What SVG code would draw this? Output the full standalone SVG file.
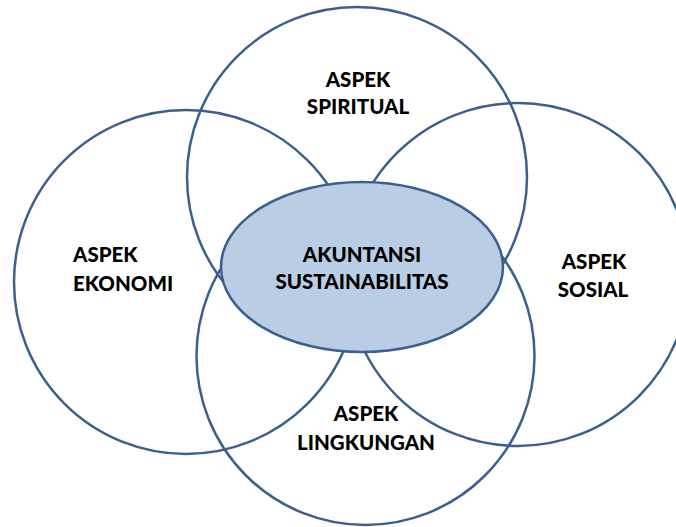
<svg xmlns="http://www.w3.org/2000/svg" width="676" height="527" viewBox="0 0 676 527">
<style>
.c{fill:none;stroke:#3B6090;stroke-width:2.5}
.e{fill:#B9CDE5;stroke:#3B6090;stroke-width:2.5}
text{font-family:Lato,"Liberation Sans",sans-serif;font-weight:900;font-size:20.5px;fill:#000}
.m{text-anchor:middle}
</style>
<rect width="676" height="527" fill="#fff"/>
<g id="spiritual"><circle class="c" cx="357" cy="177" r="170"/><text class="m" x="358" y="87">ASPEK</text><text class="m" x="358" y="114">SPIRITUAL</text></g>
<g id="ekonomi"><circle class="c" cx="186" cy="282" r="172"/><text x="73" y="262">ASPEK</text><text x="73" y="291">EKONOMI</text></g>
<g id="sosial"><circle class="c" cx="518" cy="274.5" r="171.5"/><text class="m" x="594" y="269">ASPEK</text><text class="m" x="593" y="297">SOSIAL</text></g>
<g id="lingkungan"><circle class="c" cx="365.5" cy="356" r="169"/><text class="m" x="366" y="421">ASPEK</text><text class="m" x="366" y="450">LINGKUNGAN</text></g>
<g id="akuntansi"><ellipse class="e" cx="362" cy="267" rx="141" ry="85"/><text class="m" x="362" y="262">AKUNTANSI</text><text class="m" x="362" y="289">SUSTAINABILITAS</text></g>
<g id="connectors"></g>
</svg>
